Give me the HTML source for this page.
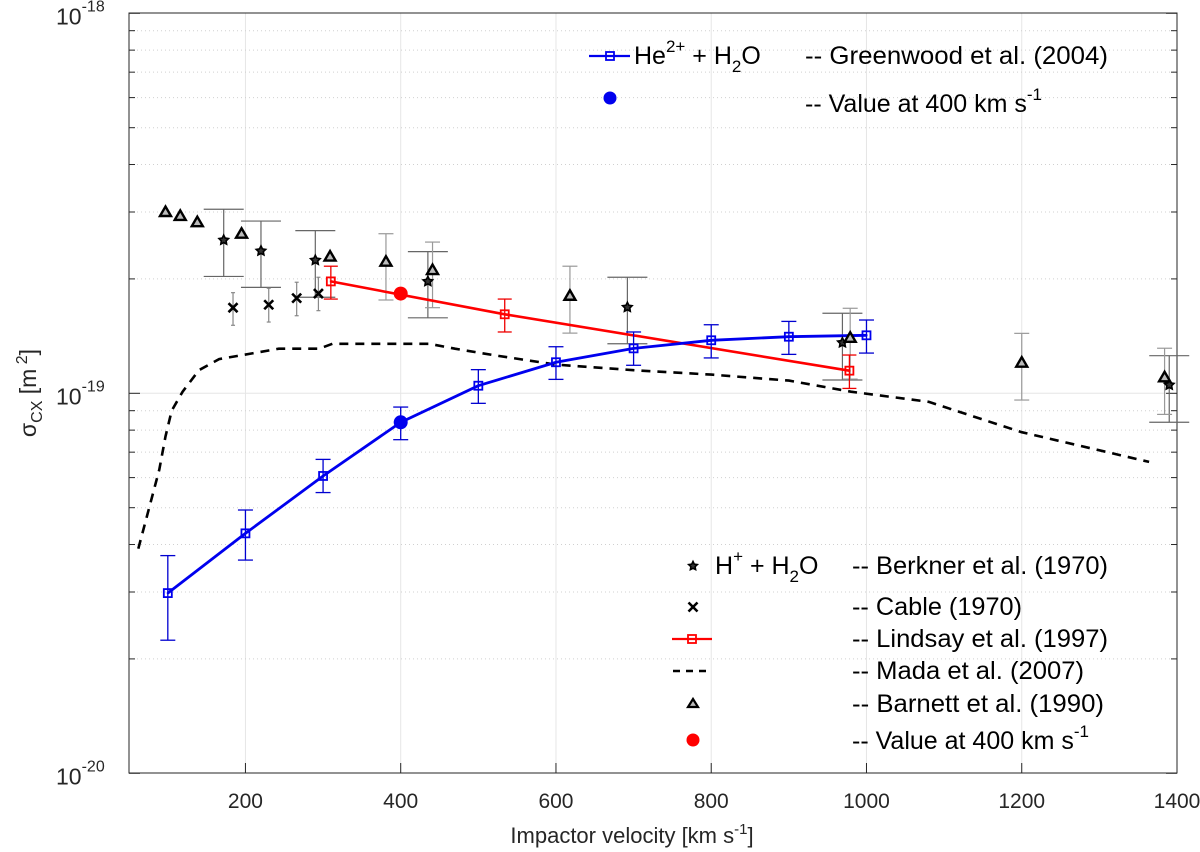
<!DOCTYPE html>
<html><head><meta charset="utf-8"><style>
html,body{margin:0;padding:0;background:#fff}
svg{display:block;font-family:"Liberation Sans",sans-serif}
</style></head><body>
<svg id="chart" width="1200" height="852" viewBox="0 0 1200 852" xmlns="http://www.w3.org/2000/svg">
<rect x="0" y="0" width="1200" height="852" fill="#fff"/>
<g id="grid"></g>
<g id="axes"></g>
<g id="series"></g>
<g id="legend"></g>
<text x="632" y="843" font-size="22" text-anchor="middle" fill="#262626">Impactor velocity [km s<tspan dy="-9" font-size="15">-1</tspan><tspan dy="9">]</tspan></text>
<g transform="translate(36,393) rotate(-90)">
<text x="0" y="0" font-size="23" text-anchor="middle" fill="#262626">σ<tspan dy="6" font-size="16">CX</tspan><tspan dy="-6"> [m</tspan><tspan dy="-9" font-size="16"> 2</tspan><tspan dy="9">]</tspan></text>
</g>
</svg>
<script>
// ---- data (values in units of 1e-19 m^2) ----
const xTicks = [200,400,600,800,1000,1200,1400];
const yDecades = [-20,-19,-18];
const blueV = [100,200,300,400,500,600,700,800,900,1000];
const blueS = [0.298,0.428,0.606,0.839,1.047,1.207,1.313,1.379,1.409,1.421];
const blueHi = [0.374,0.493,0.67,0.92,1.154,1.326,1.45,1.515,1.546,1.559];
const blueLo = [0.224,0.364,0.548,0.755,0.941,1.088,1.185,1.239,1.266,1.276];
const blueDotV = [400];
const blueDotS = [0.839];
const redV = [310,534,978];
const redS = [1.97,1.614,1.147];
const redHi = [2.16,1.77,1.261];
const redLo = [1.77,1.45,1.03];
const redDotV = [400];
const redDotS = [1.83];
const madaV = [62,76,89,97,105,119,140,166,205,243,295,312,437,470,520,600,700,800,900,980,1080,1200,1364];
const madaS = [0.39,0.5,0.63,0.77,0.9,1.01,1.15,1.23,1.27,1.31,1.31,1.35,1.35,1.31,1.26,1.19,1.15,1.12,1.08,1.01,0.95,0.79,0.66];
const berkV = [172,220,290,435,692,969,1390];
const berkS = [2.53,2.37,2.24,1.97,1.684,1.359,1.052];
const berkHi = [3.05,2.84,2.68,2.36,2.02,1.624,1.256];
const berkLo = [2.03,1.9,1.79,1.58,1.35,1.084,0.839];
const cableV = [184,230,266,294];
const cableS = [1.68,1.71,1.78,1.83];
const cableHi = [1.84,1.89,1.96,2.02];
const cableLo = [1.51,1.54,1.6,1.65];
const barnV = [97,116,138,195,309,381,441,618,979,1200,1384];
const barnS = [3.0,2.93,2.82,2.63,2.29,2.22,2.11,1.806,1.40,1.204,1.102];
const barnHi = [null,null,null,null,null,2.63,2.5,2.16,1.674,1.438,1.314];
const barnLo = [null,null,null,null,null,1.76,1.68,1.44,1.09,0.96,0.88];

const NS='http://www.w3.org/2000/svg';
const L=129,R=1177,T=13,B=773;
function X(v){return L+(v-50)*(R-L)/1350;}
function Y(s){return 393.3-380*Math.log10(s);}
function mk(tag,attrs,parent){const e=document.createElementNS(NS,tag);for(const k in attrs)e.setAttribute(k,attrs[k]);parent.appendChild(e);return e;}
const grid=document.getElementById('grid'),axes=document.getElementById('axes'),ser=document.getElementById('series'),leg=document.getElementById('legend');

for(const t of xTicks){
  const l=mk('line',{x1:X(t),x2:X(t),y1:T,y2:B,stroke:'#e6e6e6','stroke-width':1},grid);
  
  
  const tk=mk('line',{x1:X(t),x2:X(t),y1:B,y2:B-10,stroke:'#262626','stroke-width':1},axes);
  
  
  const tx=mk('text',{x:X(t),y:808,'font-size':21,'text-anchor':'middle',fill:'#262626'},axes);
  tx.textContent=t;
  
  
}
for(let d=-20;d<-18;d++){
  for(let m=2;m<=9;m++){
    const y=Y(Math.pow(10,d+19)*m);
    const gl=mk('line',{x1:L,x2:R,y1:y,y2:y,stroke:'#d0d0d0','stroke-width':1,'stroke-dasharray':'1,3'},grid);
    
    
    mk('line',{x1:L,x2:L+6,y1:y,y2:y,stroke:'#262626'},axes);
    mk('line',{x1:R,x2:R-6,y1:y,y2:y,stroke:'#262626'},axes);
  }
}
for(const d of yDecades){
  const y=Y(Math.pow(10,d+19));
  if(d===-19){
    const gl=mk('line',{x1:L,x2:R,y1:y,y2:y,stroke:'#e6e6e6','stroke-width':1},grid);
    
    
  }
  mk('line',{x1:L,x2:L+11,y1:y,y2:y,stroke:'#262626'},axes);
  mk('line',{x1:R,x2:R-11,y1:y,y2:y,stroke:'#262626'},axes);
  const tx=mk('text',{x:56,y:y+11,'font-size':23,fill:'#262626'},axes);
  tx.innerHTML='10<tspan dy="-13" font-size="16">'+d+'</tspan>';
  
  
}
const box=mk('rect',{x:L,y:T,width:R-L,height:B-T,fill:'none',stroke:'#262626','stroke-width':1},axes);



function ebar(x,hi,lo,cw,col,sw){
  const g=mk('g',{stroke:col,'stroke-width':sw,fill:'none'},ser);
  mk('line',{x1:x,x2:x,y1:Y(hi),y2:Y(lo)},g);
  mk('line',{x1:x-cw/2,x2:x+cw/2,y1:Y(hi),y2:Y(hi)},g);
  mk('line',{x1:x-cw/2,x2:x+cw/2,y1:Y(lo),y2:Y(lo)},g);
  
  
}
function starPath(cx,cy,r){let p='';for(let i=0;i<10;i++){const a=-Math.PI/2+i*Math.PI/5;const rr=i%2?r*0.5:r;p+=(i?'L':'M')+(cx+rr*Math.cos(a)).toFixed(1)+','+(cy+rr*Math.sin(a)).toFixed(1);}return p+'Z';}
function star(cx,cy,r,parent){return mk('path',{d:starPath(cx,cy,r),fill:'#333',stroke:'#000','stroke-width':1.6},parent);}
function tri(cx,cy,parent){return mk('path',{d:`M${cx},${cy-5.5}L${cx+5.5},${cy+4}L${cx-5.5},${cy+4}Z`,fill:'#bbb',stroke:'#000','stroke-width':2.4,'stroke-linejoin':'miter'},parent);}
function cross(cx,cy,parent){const g=mk('g',{stroke:'#000','stroke-width':2.6},parent);mk('line',{x1:cx-4.5,y1:cy-4.5,x2:cx+4.5,y2:cy+4.5},g);mk('line',{x1:cx-4.5,y1:cy+4.5,x2:cx+4.5,y2:cy-4.5},g);return g;}
function sq(cx,cy,col,parent){const g=mk('g',{},parent);mk('rect',{x:cx-4,y:cy-4,width:8,height:8,fill:'none',stroke:col,'stroke-width':1.8},g);mk('rect',{x:cx-1,y:cy-1,width:2,height:2,fill:col},g);return g;}

let dm='';madaV.forEach((v,i)=>{dm+=(i?'L':'M')+X(v).toFixed(1)+','+Y(madaS[i]).toFixed(1);});
const mada=mk('path',{d:dm,fill:'none',stroke:'#000','stroke-width':2.6,'stroke-dasharray':'9,7'},ser);



berkV.forEach((v,i)=>ebar(X(v),berkHi[i],berkLo[i],40,'#666',1.2));
barnV.forEach((v,i)=>{if(barnHi[i]!==null)ebar(X(v),barnHi[i],barnLo[i],15,'#999',1.2);});
cableV.forEach((v,i)=>ebar(X(v),cableHi[i],cableLo[i],4,'#888',1.2));

redV.forEach((v,i)=>ebar(X(v),redHi[i],redLo[i],14,'#e00',1.3));
let dr='';redV.forEach((v,i)=>{dr+=(i?'L':'M')+X(v).toFixed(1)+','+Y(redS[i]).toFixed(1);});
const rl=mk('path',{d:dr,fill:'none',stroke:'#f00','stroke-width':2.6},ser);


redV.forEach((v,i)=>{const s=sq(X(v),Y(redS[i]),'#f00',ser);});

blueV.forEach((v,i)=>ebar(X(v),blueHi[i],blueLo[i],15,'#0000d0',1.3));
let db='';blueV.forEach((v,i)=>{db+=(i?'L':'M')+X(v).toFixed(1)+','+Y(blueS[i]).toFixed(1);});
const bl=mk('path',{d:db,fill:'none',stroke:'#0000ee','stroke-width':2.8},ser);


blueV.forEach((v,i)=>{const s=sq(X(v),Y(blueS[i]),'#0000ee',ser);});

berkV.forEach((v,i)=>{const s=star(X(v),Y(berkS[i]),5,ser);});
cableV.forEach((v,i)=>{const c=cross(X(v),Y(cableS[i]),ser);});
barnV.forEach((v,i)=>{const t=tri(X(v),Y(barnS[i]),ser);});
blueDotV.forEach((v,i)=>{const c=mk('circle',{cx:X(v),cy:Y(blueDotS[i]),r:7,fill:'#0000ee'},ser);});
redDotV.forEach((v,i)=>{const c=mk('circle',{cx:X(v),cy:Y(redDotS[i]),r:7,fill:'#f00'},ser);});

function ltext(x,y,html,name,len){const t=mk('text',{x:x,y:y,'font-size':25,fill:'#000'},leg);if(len){t.setAttribute('textLength',len);t.setAttribute('lengthAdjust','spacingAndGlyphs');}t.innerHTML=html;return t;}
mk('line',{x1:589,x2:630,y1:56,y2:56,stroke:'#0000ee','stroke-width':2.2},leg);
sq(610,56,'#0000ee',leg);
ltext(634,64,'He<tspan dy="-12" font-size="17">2+</tspan><tspan dy="12">  + H</tspan><tspan dy="8" font-size="17">2</tspan><tspan dy="-8">O</tspan>','legend-he-label');
ltext(805,64,'-- Greenwood et al. (2004)','legend-greenwood',303);
mk('circle',{cx:610,cy:98,r:6.5,fill:'#0000ee'},leg);
ltext(805,112,'-- Value at 400 km s<tspan dy="-12" font-size="17">-1</tspan>','legend-he-value');

star(693,566,4.5,leg);
ltext(715,574,'H<tspan dy="-12" font-size="17">+</tspan><tspan dy="12">  + H</tspan><tspan dy="8" font-size="17">2</tspan><tspan dy="-8">O</tspan>','legend-h-label');
ltext(852,574,'-- Berkner et al. (1970)','legend-berkner',256);
cross(693,607,leg);
ltext(852,615,'-- Cable (1970)','legend-cable',170);
mk('line',{x1:672,x2:712,y1:639,y2:639,stroke:'#f00','stroke-width':2.2},leg);
sq(692,639,'#f00',leg);
ltext(852,647,'-- Lindsay et al. (1997)','legend-lindsay',256);
mk('line',{x1:673,x2:712,y1:671,y2:671,stroke:'#000','stroke-width':2.4,'stroke-dasharray':'7,6'},leg);
ltext(852,679,'-- Mada et al. (2007)','legend-mada',232);
mk('path',{d:'M693,699L698,707L688,707Z',fill:'#bbb',stroke:'#000','stroke-width':2.2},leg);
ltext(852,712,'-- Barnett et al. (1990)','legend-barnett',252);
mk('circle',{cx:693,cy:740,r:6.5,fill:'#f00'},leg);
ltext(852,749,'-- Value at 400 km s<tspan dy="-12" font-size="17">-1</tspan>','legend-h-value');
</script>
</body></html>
